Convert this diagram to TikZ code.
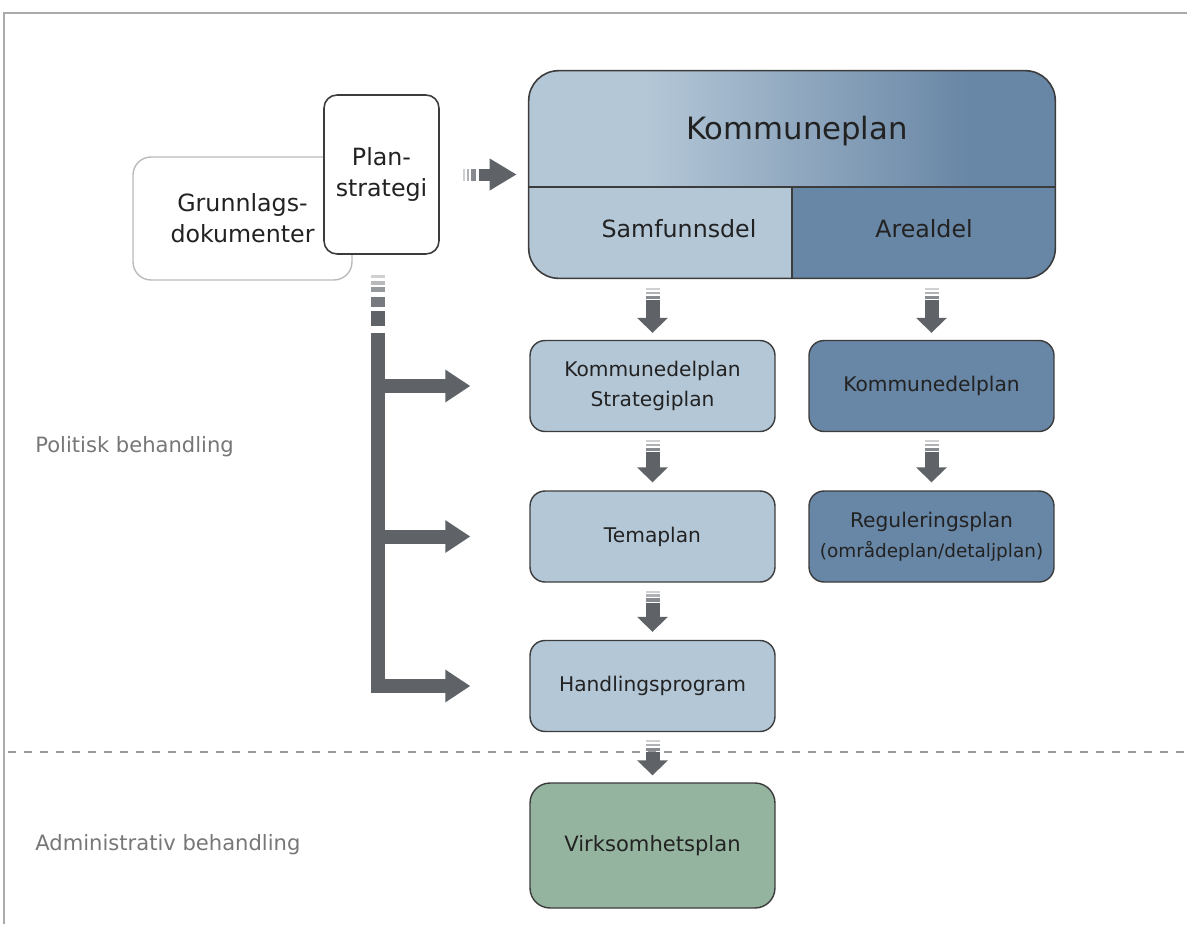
\documentclass[tikz,border=0pt]{standalone}
\usepackage{fontspec}
\setmainfont{DejaVu Sans}
\usetikzlibrary{arrows.meta,calc}
\definecolor{lightblue}{HTML}{B4C7D7}
\definecolor{darkblue}{HTML}{6886A5}
\definecolor{greenbox}{HTML}{95B49F}
\definecolor{arrowgray}{HTML}{5F6368}
\definecolor{framegray}{HTML}{AAAAAA}
\definecolor{labelgray}{HTML}{777777}
\definecolor{txt}{HTML}{222222}
\definecolor{edge}{HTML}{3C3C3C}
\definecolor{grunnedge}{HTML}{BBBBBB}
\definecolor{dashgray}{HTML}{999999}
\pgfdeclarehorizontalshading{kpshade}{100bp}{color(0bp)=(lightblue); color(36bp)=(lightblue); color(67bp)=(darkblue); color(100bp)=(darkblue)}
\newcommand{\vfade}[1]{%
  \fill[arrowgray!30] ($(#1)+(-7,-12)$) rectangle ($(#1)+(7,-10)$);
  \fill[arrowgray!50] ($(#1)+(-7,-8.5)$) rectangle ($(#1)+(7,-6)$);
  \fill[arrowgray!75] ($(#1)+(-7,-4.5)$) rectangle ($(#1)+(7,-1.2)$);}
\begin{document}
\begin{tikzpicture}[x=0.02cm,y=-0.02cm,
  every node/.style={text=txt},
  box/.style={draw=edge, line width=0.8pt, rounded corners=0.3cm,
    minimum width=4.9cm, minimum height=1.82cm, inner sep=0pt, align=center,
    font=\fontsize{11.5}{17}\selectfont},
  darrow/.style={draw=arrowgray, line width=0.28cm, -{Triangle[width=0.6cm,length=0.3cm]}},
  barrow/.style={draw=arrowgray, line width=0.28cm, line join=miter, -{Triangle[width=0.62cm,length=0.5cm]}},
  harrow/.style={draw=arrowgray, line width=0.24cm, -{Triangle[width=0.6cm,length=0.54cm]}},
  sidelabel/.style={anchor=west, text=labelgray, inner sep=0pt, font=\fontsize{12}{14}\selectfont}
]
\useasboundingbox (0,0) rectangle (1187,924);
\fill[white] (0,0) rectangle (1187,924);
% frame
\draw[framegray, line width=0.8pt] (4,924) -- (4,13) -- (1187,13);
% dashed separator
\draw[dashgray, line width=1.1pt, dash pattern=on 0.16cm off 0.16cm] (8,752) -- (1187,752);
% side labels
\node[sidelabel] (pol) at (35,447) {Politisk behandling};
\node[sidelabel] (adm) at (35,845) {Administrativ behandling};
% left boxes
\node[draw=grunnedge, line width=0.8pt, fill=white, rounded corners=0.36cm,
  minimum width=4.38cm, minimum height=2.46cm, inner sep=0pt, align=center,
  font=\fontsize{13.5}{17.5}\selectfont] (grunn) at (242.5,218.5) {Grunnlags-\\dokumenter};
\node[draw=edge, line width=0.9pt, fill=white, rounded corners=0.26cm,
  minimum width=2.3cm, minimum height=3.18cm, inner sep=0pt, align=center,
  font=\fontsize{13.5}{17.5}\selectfont] (plan) at (381.5,174.5) {Plan-\\strategi};
% Kommuneplan
\node[minimum width=10.52cm, minimum height=4.14cm, inner sep=0pt] (kp) at (792,174.5) {};
\begin{scope}
  \clip[rounded corners=0.6cm] (kp.north west) rectangle (kp.south east);
  \shade[shading=kpshade] (529,71) rectangle (1055,187);
  \fill[lightblue] (529,187) rectangle (792,278);
  \fill[darkblue] (792,187) rectangle (1055,278);
\end{scope}
\draw[edge, line width=0.9pt, rounded corners=0.6cm] (kp.north west) rectangle (kp.south east);
\draw[edge, line width=0.9pt] (529,187) -- (1055,187) (792,187) -- (792,278);
\node[font=\fontsize{17.5}{20}\selectfont] (kptext) at (797,131) {Kommuneplan};
\node[font=\fontsize{13.5}{16}\selectfont] (samf) at (679,229) {Samfunnsdel};
\node[font=\fontsize{13.5}{16}\selectfont] (areal) at (924,229) {Arealdel};
% plan boxes
\node[box, fill=lightblue] (kdp1) at (652.5,386) {Kommunedelplan\\Strategiplan};
\node[box, fill=darkblue] (kdp2) at (931.5,386) {Kommunedelplan};
\node[box, fill=lightblue] (tema) at (652.5,536.5) {Temaplan};
\node[box, fill=darkblue] (reg) at (931.5,536.5) {Reguleringsplan\\{\fontsize{10.5}{14}\selectfont(områdeplan/detaljplan)}};
\node[box, fill=lightblue] (hp) at (652.5,686) {Handlingsprogram};
\node[box, fill=greenbox, minimum height=2.5cm, rounded corners=0.4cm,
  font=\fontsize{12}{14}\selectfont] (virk) at (652.5,845.5) {Virksomhetsplan};
% Plan -> Kommuneplan
\coordinate (hs) at ($(plan.east)+(39,0)$);
\fill[arrowgray!30] ($(hs)+(-16,-6)$) rectangle ($(hs)+(-14,6)$);
\fill[arrowgray!50] ($(hs)+(-12,-6)$) rectangle ($(hs)+(-9.5,6)$);
\fill[arrowgray!75] ($(hs)+(-7.5,-6)$) rectangle ($(hs)+(-3,6)$);
\draw[harrow] (hs) -- ($(kp.west)+(-12,0)$);
% vertical bar from Planstrategi
\coordinate (bartop) at ($(plan.south)+(-3.5,78)$);
\fill[arrowgray!30] ($(bartop)+(-7,-58)$) rectangle ($(bartop)+(7,-55)$);
\fill[arrowgray!45] ($(bartop)+(-7,-52)$) rectangle ($(bartop)+(7,-48)$);
\fill[arrowgray!65] ($(bartop)+(-7,-46)$) rectangle ($(bartop)+(7,-41)$);
\fill[arrowgray!85] ($(bartop)+(-7,-36)$) rectangle ($(bartop)+(7,-26)$);
\fill[arrowgray] ($(bartop)+(-7,-22)$) rectangle ($(bartop)+(7,-7)$);
\draw[barrow] (bartop) |- ($(hp.west)+(-59,0)$);
\draw[barrow] (bartop |- kdp1.west) -- ($(kdp1.west)+(-59,0)$);
\draw[barrow] (bartop |- tema.west) -- ($(tema.west)+(-59,0)$);
% down arrows
\coordinate (d1) at ($(kdp1.north |- kp.south)+(0,22)$);
\vfade{d1}
\draw[darrow] (d1) -- ($(kdp1.north)+(0,-7)$);
\coordinate (d2) at ($(kdp2.north |- kp.south)+(0,22)$);
\vfade{d2}
\draw[darrow] (d2) -- ($(kdp2.north)+(0,-7)$);
\coordinate (d3) at ($(kdp1.south)+(0,20)$);
\vfade{d3}
\draw[darrow] (d3) -- ($(tema.north)+(0,-8)$);
\coordinate (d4) at ($(kdp2.south)+(0,20)$);
\vfade{d4}
\draw[darrow] (d4) -- ($(reg.north)+(0,-8)$);
\coordinate (d5) at ($(tema.south)+(0,20)$);
\vfade{d5}
\draw[darrow] (d5) -- ($(hp.north)+(0,-8)$);
\coordinate (d6) at ($(hp.south)+(0,20)$);
\vfade{d6}
\draw[darrow] (d6) -- ($(virk.north)+(0,-7)$);
\end{tikzpicture}
\end{document}
